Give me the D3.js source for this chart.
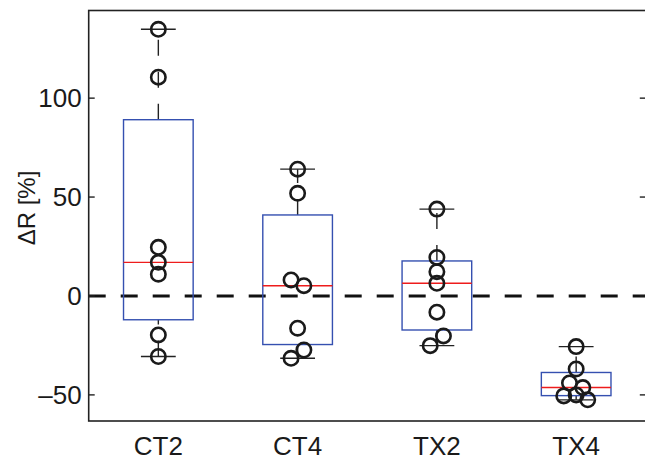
<!DOCTYPE html>
<html>
<head>
<meta charset="utf-8">
<script src="https://cdn.jsdelivr.net/npm/d3@7"></script>
<style>
  body { margin: 0; background: #fff; }
  svg { display: block; font-family: "Liberation Sans", Arial, Helvetica, sans-serif; }
</style>
</head>
<body>
<div id="chart"></div>
<script>
// group names and observed values (ΔR in %)
const categories = ['CT2', 'CT4', 'TX2', 'TX4'];
const ct2 = [134.8, 110.6, 24.6, 17.0, 11.0, -19.7, -30.6];
const ct4 = [64.1, 51.9, 8.1, 5.2, -16.3, -27.3, -31.5];
const tx2 = [43.9, 19.5, 12.3, 6.4, -8.2, -20.2, -25.1];
const tx4 = [-25.6, -36.9, -44.0, -46.3, -50.5, -50.0, -52.5];
// horizontal jitter of each point, in category units
const ct2Jitter = [0, 0, 0, 0, 0, 0, 0];
const ct4Jitter = [0, 0, -0.047, 0.045, 0, 0.045, -0.047];
const tx2Jitter = [0, 0, 0, 0, 0, 0.047, -0.048];
const tx4Jitter = [0, 0, -0.048, 0.048, -0.089, 0, 0.083];
const yTicks = [-50, 0, 50, 100];
const yDomain = [-63.2, 144.3];
const yLabel = 'ΔR [%]';

const groups = [ct2, ct4, tx2, tx4];
const jitters = [ct2Jitter, ct4Jitter, tx2Jitter, tx4Jitter];

const W = 645, H = 459;
const plot = { left: 88.7, right: 645.8, top: 10.5, bottom: 421 };

const svg = d3.select('#chart').append('svg')
  .attr('width', W).attr('height', H);

const x = d3.scaleLinear().domain([0.5, categories.length + 0.5]).range([plot.left, plot.right]);
const y = d3.scaleLinear().domain(yDomain).range([plot.bottom, plot.top]);

// MATLAB-style percentile
function prctile(sorted, p) {
  const n = sorted.length;
  const pos = p * n + 0.5;
  if (pos <= 1) return sorted[0];
  if (pos >= n) return sorted[n - 1];
  const i = Math.floor(pos), f = pos - i;
  return sorted[i - 1] + f * (sorted[i] - sorted[i - 1]);
}

const stats = groups.map((vals) => {
  const s = vals.slice().sort(d3.ascending);
  const q1 = prctile(s, 0.25), med = prctile(s, 0.5), q3 = prctile(s, 0.75);
  const iqr = q3 - q1;
  const lo = d3.min(s.filter((v) => v >= q1 - 1.5 * iqr));
  const hi = d3.max(s.filter((v) => v <= q3 + 1.5 * iqr));
  return { q1, med, q3, lo, hi };
});

const boxHalf = 0.25, capHalf = 0.125;
const g = svg.append('g');

// zero reference line
g.append('line')
  .attr('x1', plot.left).attr('x2', plot.right)
  .attr('y1', y(0)).attr('y2', y(0))
  .attr('stroke', '#111').attr('stroke-width', 3)
  .attr('stroke-dasharray', '17,15');

stats.forEach((s, i) => {
  const cx = x(i + 1);
  // whiskers drawn from lower value upward so dashes start at that end
  g.append('line').attr('x1', cx).attr('x2', cx).attr('y1', y(s.q3)).attr('y2', y(s.hi))
    .attr('stroke', '#222').attr('stroke-width', 1.4).attr('stroke-dasharray', '16,16');
  g.append('line').attr('x1', cx).attr('x2', cx).attr('y1', y(s.lo)).attr('y2', y(s.q1))
    .attr('stroke', '#222').attr('stroke-width', 1.4).attr('stroke-dasharray', '16,16');
  [s.lo, s.hi].forEach((v) => {
    g.append('line')
      .attr('x1', x(i + 1 - capHalf)).attr('x2', x(i + 1 + capHalf))
      .attr('y1', y(v)).attr('y2', y(v))
      .attr('stroke', '#222').attr('stroke-width', 1.4);
  });
  g.append('rect')
    .attr('x', x(i + 1 - boxHalf)).attr('width', x(i + 1 + boxHalf) - x(i + 1 - boxHalf))
    .attr('y', y(s.q3)).attr('height', y(s.q1) - y(s.q3))
    .attr('fill', 'none').attr('stroke', '#3550b0').attr('stroke-width', 1.4);
  g.append('line')
    .attr('x1', x(i + 1 - boxHalf)).attr('x2', x(i + 1 + boxHalf))
    .attr('y1', y(s.med)).attr('y2', y(s.med))
    .attr('stroke', '#ee1c1c').attr('stroke-width', 1.4);
});

// data points
groups.forEach((vals, i) => {
  g.selectAll(null).data(vals).enter().append('circle')
    .attr('cx', (d, j) => x(i + 1 + jitters[i][j]))
    .attr('cy', (d) => y(d))
    .attr('r', 7.2)
    .attr('fill', 'none')
    .attr('stroke', '#1a1a1a')
    .attr('stroke-width', 2.6);
});

// frame
svg.append('rect')
  .attr('x', plot.left).attr('y', plot.top)
  .attr('width', plot.right - plot.left).attr('height', plot.bottom - plot.top)
  .attr('fill', 'none').attr('stroke', '#222').attr('stroke-width', 1.6);

// y ticks (inward, both sides)
yTicks.forEach((t) => {
  svg.append('line').attr('x1', plot.left).attr('x2', plot.left + 6).attr('y1', y(t)).attr('y2', y(t))
    .attr('stroke', '#222').attr('stroke-width', 1.4);
  svg.append('line').attr('x1', plot.right - 6).attr('x2', plot.right).attr('y1', y(t)).attr('y2', y(t))
    .attr('stroke', '#222').attr('stroke-width', 1.4);
  svg.append('text')
    .attr('x', plot.left - 7).attr('y', y(t)).attr('dy', '0.36em')
    .attr('text-anchor', 'end').attr('font-size', 26).attr('fill', '#1a1a1a')
    .text(t < 0 ? '\u2013' + Math.abs(t) : t);
});

// category labels
categories.forEach((c, i) => {
  svg.append('text')
    .attr('x', x(i + 1)).attr('y', 455)
    .attr('text-anchor', 'middle').attr('font-size', 26).attr('fill', '#1a1a1a')
    .text(c);
});

// y axis label
svg.append('text')
  .attr('transform', `translate(35,208) rotate(-90)`)
  .attr('text-anchor', 'middle').attr('font-size', 24).attr('fill', '#1a1a1a')
  .text(yLabel);
</script>
</body>
</html>
